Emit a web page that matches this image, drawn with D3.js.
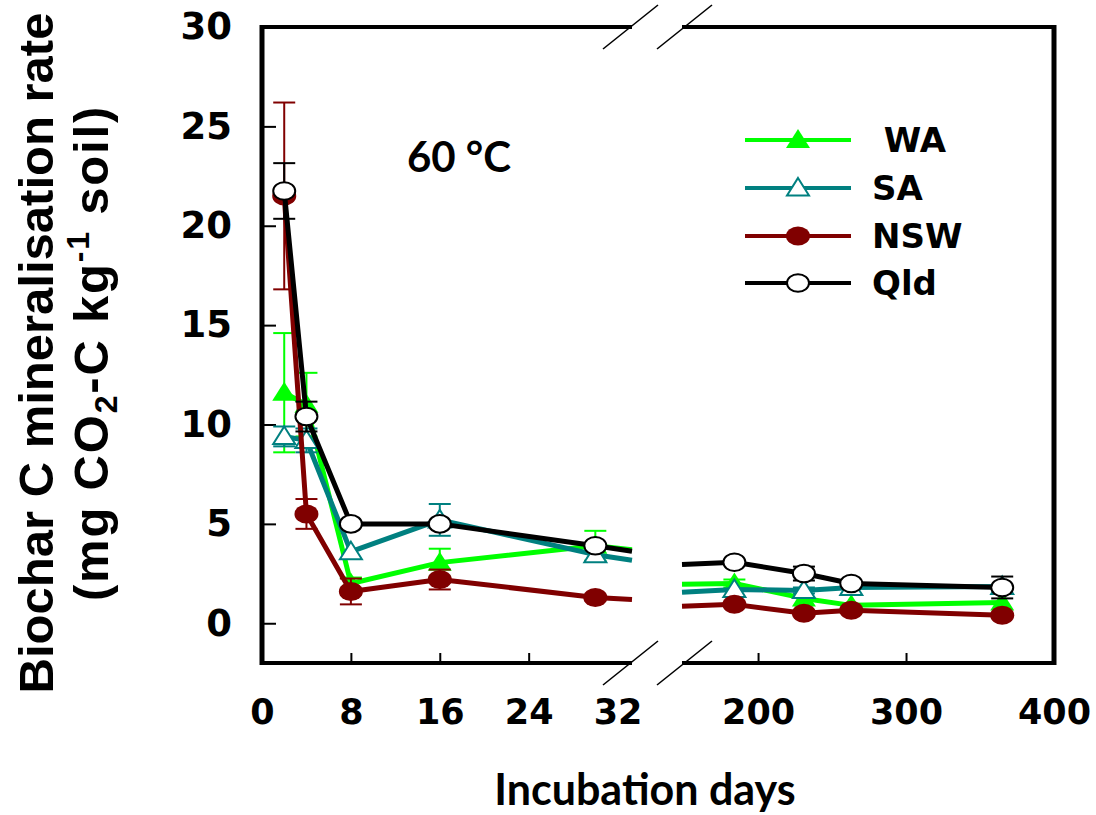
<!DOCTYPE html>
<html>
<head>
<meta charset="utf-8">
<script src="https://cdn.jsdelivr.net/npm/d3@7/dist/d3.min.js"></script>
<style>
  html, body { margin: 0; padding: 0; background: #ffffff; }
  svg { display: block; }
  .tick-label { font-family: "DejaVu Sans", Verdana, sans-serif; font-weight: bold; }
</style>
</head>
<body>
<svg id="chart" width="1096" height="815"></svg>
<script>
// Sampling days (incubation at 60 °C)
const days = [2, 4, 8, 16, 30, 184, 231, 263, 365];

// Biochar C mineralisation rate (mg CO2-C kg-1 soil) and standard errors
const waRate  = [11.6, 11.0, 2.0, 3.05, 3.9, 2.0, 1.25, 0.9, 1.05];
const waErr   = [3.0, 1.6, 0.3, 0.7, 0.75, 0.2, 0, 0, 0];
const saRate  = [9.4, 9.2, 3.6, 5.2, 3.45, 1.7, 1.65, 1.8, 1.85];
const saErr   = [0.5, 0.6, 0, 0.8, 0.35, 0, 0.15, 0, 0];
const nswRate = [21.5, 5.5, 1.6, 2.2, 1.3, 0.95, 0.5, 0.65, 0.4];
const nswErr  = [4.7, 0.75, 0.65, 0.5, 0, 0, 0, 0, 0];
const qldRate = [21.75, 10.4, 5.0, 5.0, 3.9, 3.07, 2.5, 2.0, 1.8];
const qldErr  = [1.4, 0.75, 0, 0, 0, 0, 0.35, 0, 0.55];

// Where each line meets the left and right edges of the axis break
const breakLeftRate  = [3.7, 3.17, 1.2, 3.62];
const breakRightRate = [1.96, 1.56, 0.85, 2.96];

const seriesNames  = [" WA", "SA", "NSW", "Qld"];
const seriesColors = ["#00ff00", "#008080", "#800000", "#000000"];
const seriesMarker = ["triFilled", "triOpen", "dotFilled", "dotOpen"];

const xTicksLeft  = [0, 8, 16, 24, 32];
const xTicksRight = [200, 300, 400];
const yTicks = [0, 5, 10, 15, 20, 25, 30];

const series = [
  { rate: waRate,  err: waErr  },
  { rate: saRate,  err: saErr  },
  { rate: nswRate, err: nswErr },
  { rate: qldRate, err: qldErr }
].map((s, i) => ({
  ...s,
  name: seriesNames[i],
  color: seriesColors[i],
  marker: seriesMarker[i],
  edgeL: breakLeftRate[i],
  edgeR: breakRightRate[i]
}));

const svg = d3.select("#chart");

// Broken x axis: early days on the left, long-term days on the right
const xLeft  = d3.scaleLinear().domain([0, 33.3]).range([262, 632]);
const xRight = d3.scaleLinear().domain([148.6, 400]).range([682, 1054]);
const xPos = d => (d <= 33.3 ? xLeft(d) : xRight(d));
const y = d3.scaleLinear().domain([-2, 30]).range([663, 27]);

const yTop = y(30), yBottom = y(-2);

// ---- axes ----
const axisG = svg.append("g");

// Y axis with inward ticks
const yAxis = d3.axisLeft(y).tickValues(yTicks).tickSize(-14).tickPadding(30).tickFormat(d3.format("d"));
const yg = axisG.append("g").attr("transform", `translate(${xLeft(0)},0)`).call(yAxis);
yg.select(".domain").remove();
yg.selectAll(".tick line").attr("stroke", "#000").attr("stroke-width", 2);
yg.selectAll(".tick text").attr("class", "tick-label").attr("font-size", 37).attr("fill", "#000");

// X axis, left segment
const xAxisL = d3.axisBottom(xLeft).tickValues(xTicksLeft).tickSize(-10).tickPadding(36).tickFormat(d3.format("d"));
const xgL = axisG.append("g").attr("transform", `translate(0,${yBottom})`).call(xAxisL);
// X axis, right segment
const xAxisR = d3.axisBottom(xRight).tickValues(xTicksRight).tickSize(-10).tickPadding(36).tickFormat(d3.format("d"));
const xgR = axisG.append("g").attr("transform", `translate(0,${yBottom})`).call(xAxisR);
[xgL, xgR].forEach(g => {
  g.select(".domain").remove();
  g.selectAll(".tick line").attr("stroke", "#000").attr("stroke-width", 2)
    .filter(d => d === 0 || d === 32 || d === 400).remove();
  g.selectAll(".tick text").attr("class", "tick-label").attr("font-size", 35).attr("fill", "#000");
});

// Frame: bottom and top lines split at the break, left and right sides
const frame = axisG.append("g").attr("stroke", "#000").attr("fill", "none");
[[xLeft(0), xLeft(33.3)], [xRight(148.6), xRight(400)]].forEach(([a, b]) => {
  frame.append("line").attr("x1", a).attr("x2", b).attr("y1", yBottom).attr("y2", yBottom).attr("stroke-width", 4);
  frame.append("line").attr("x1", a).attr("x2", b).attr("y1", yTop).attr("y2", yTop).attr("stroke-width", 4);
});
frame.append("line").attr("x1", xLeft(0)).attr("x2", xLeft(0)).attr("y1", yTop - 2).attr("y2", yBottom + 2).attr("stroke-width", 5);
frame.append("line").attr("x1", xRight(400)).attr("x2", xRight(400)).attr("y1", yTop - 2).attr("y2", yBottom + 2).attr("stroke-width", 5);

// Break marks
[xLeft(33.3) - 1.5, xRight(148.6) + 2.5].forEach(cx => {
  [yTop, yBottom].forEach(cy => {
    frame.append("line")
      .attr("x1", cx - 27.5).attr("y1", cy + 22)
      .attr("x2", cx + 27.5).attr("y2", cy - 22)
      .attr("stroke-width", 1.6);
  });
});

// ---- data ----
const line = d3.line().x(p => p[0]).y(p => p[1]);
const plot = svg.append("g");

const triPath = "M0,-11 L12,8 L-12,8 Z";

series.forEach(s => {
  const g = plot.append("g");
  const pts = days.map((d, i) => ({ d, v: s.rate[i], e: s.err[i] }));
  const leftPts  = pts.filter(p => p.d <= 33.3).map(p => [xPos(p.d), y(p.v)]);
  leftPts.push([xLeft(33.3), y(s.edgeL)]);
  const rightPts = [[xRight(148.6), y(s.edgeR)]].concat(pts.filter(p => p.d > 33.3).map(p => [xPos(p.d), y(p.v)]));

  [leftPts, rightPts].forEach(lp => {
    g.append("path").attr("d", line(lp)).attr("fill", "none")
      .attr("stroke", s.color).attr("stroke-width", 5).attr("stroke-linejoin", "round");
  });

  // error bars
  const eb = g.append("g").attr("stroke", s.color).attr("stroke-width", 2);
  pts.filter(p => p.e > 0).forEach(p => {
    const cx = xPos(p.d);
    eb.append("line").attr("x1", cx).attr("x2", cx).attr("y1", y(p.v + p.e)).attr("y2", y(p.v - p.e));
    [p.v + p.e, p.v - p.e].forEach(v => {
      eb.append("line").attr("x1", cx - 11).attr("x2", cx + 11).attr("y1", y(v)).attr("y2", y(v));
    });
  });

  // markers
  pts.forEach(p => drawMarker(g, s, xPos(p.d), y(p.v)));
});

function drawMarker(g, s, cx, cy) {
  if (s.marker === "triFilled") {
    g.append("path").attr("d", triPath).attr("transform", `translate(${cx},${cy})`).attr("fill", s.color);
  } else if (s.marker === "triOpen") {
    g.append("path").attr("d", "M0,-10 L11,7.5 L-11,7.5 Z").attr("transform", `translate(${cx},${cy})`)
      .attr("fill", "#fff").attr("stroke", s.color).attr("stroke-width", 2);
  } else if (s.marker === "dotFilled") {
    g.append("ellipse").attr("cx", cx).attr("cy", cy).attr("rx", 12).attr("ry", 9.5).attr("fill", s.color);
  } else {
    g.append("ellipse").attr("cx", cx).attr("cy", cy).attr("rx", 11).attr("ry", 8.8)
      .attr("fill", "#fff").attr("stroke", s.color).attr("stroke-width", 2);
  }
}

// ---- legend ----
const legend = svg.append("g");
const legendY = [140, 188, 236, 283];
series.forEach((s, i) => {
  const ly = legendY[i];
  legend.append("line").attr("x1", 745).attr("x2", 851).attr("y1", ly).attr("y2", ly)
    .attr("stroke", s.color).attr("stroke-width", 4);
  drawMarker(legend, s, 798, ly);
  legend.append("text").attr("x", 872).attr("y", ly).attr("dy", "0.36em")
    .style("white-space", "pre")
    .attr("font-family", "DejaVu Sans, Verdana, sans-serif").attr("font-weight", "bold")
    .attr("font-size", 34).attr("fill", "#000").text(s.name);
});

// ---- labels ----
svg.append("text").attr("x", 459).attr("y", 172).attr("text-anchor", "middle")
  .attr("font-family", "Lato, 'Open Sans', sans-serif").attr("font-weight", "bold")
  .attr("font-size", 42).attr("fill", "#000").text("60 °C");

svg.append("text").attr("x", 645).attr("y", 805).attr("text-anchor", "middle")
  .attr("font-family", "Lato, 'Open Sans', sans-serif").attr("font-weight", "bold")
  .attr("font-size", 43).attr("fill", "#000").text("Incubation days");

const yTitle = svg.append("g").attr("transform", "translate(0,353) rotate(-90)")
  .attr("font-family", "Liberation Sans, Arial, sans-serif").attr("font-weight", "bold")
  .attr("fill", "#000").attr("text-anchor", "middle");
yTitle.append("text").attr("x", 0).attr("y", 53).attr("font-size", 49).text("Biochar C mineralisation rate");
const t2 = yTitle.append("text").attr("x", 0).attr("y", 108).attr("font-size", 49)
  .attr("letter-spacing", 1.8);
t2.append("tspan").text("(mg CO");
t2.append("tspan").attr("font-size", 32).attr("dy", 9).text("2");
t2.append("tspan").attr("dy", -9).text("-C kg");
t2.append("tspan").attr("font-size", 32).attr("dy", -19).text("-1");
t2.append("tspan").attr("dy", 19).text(" soil)");
</script>
</body>
</html>
